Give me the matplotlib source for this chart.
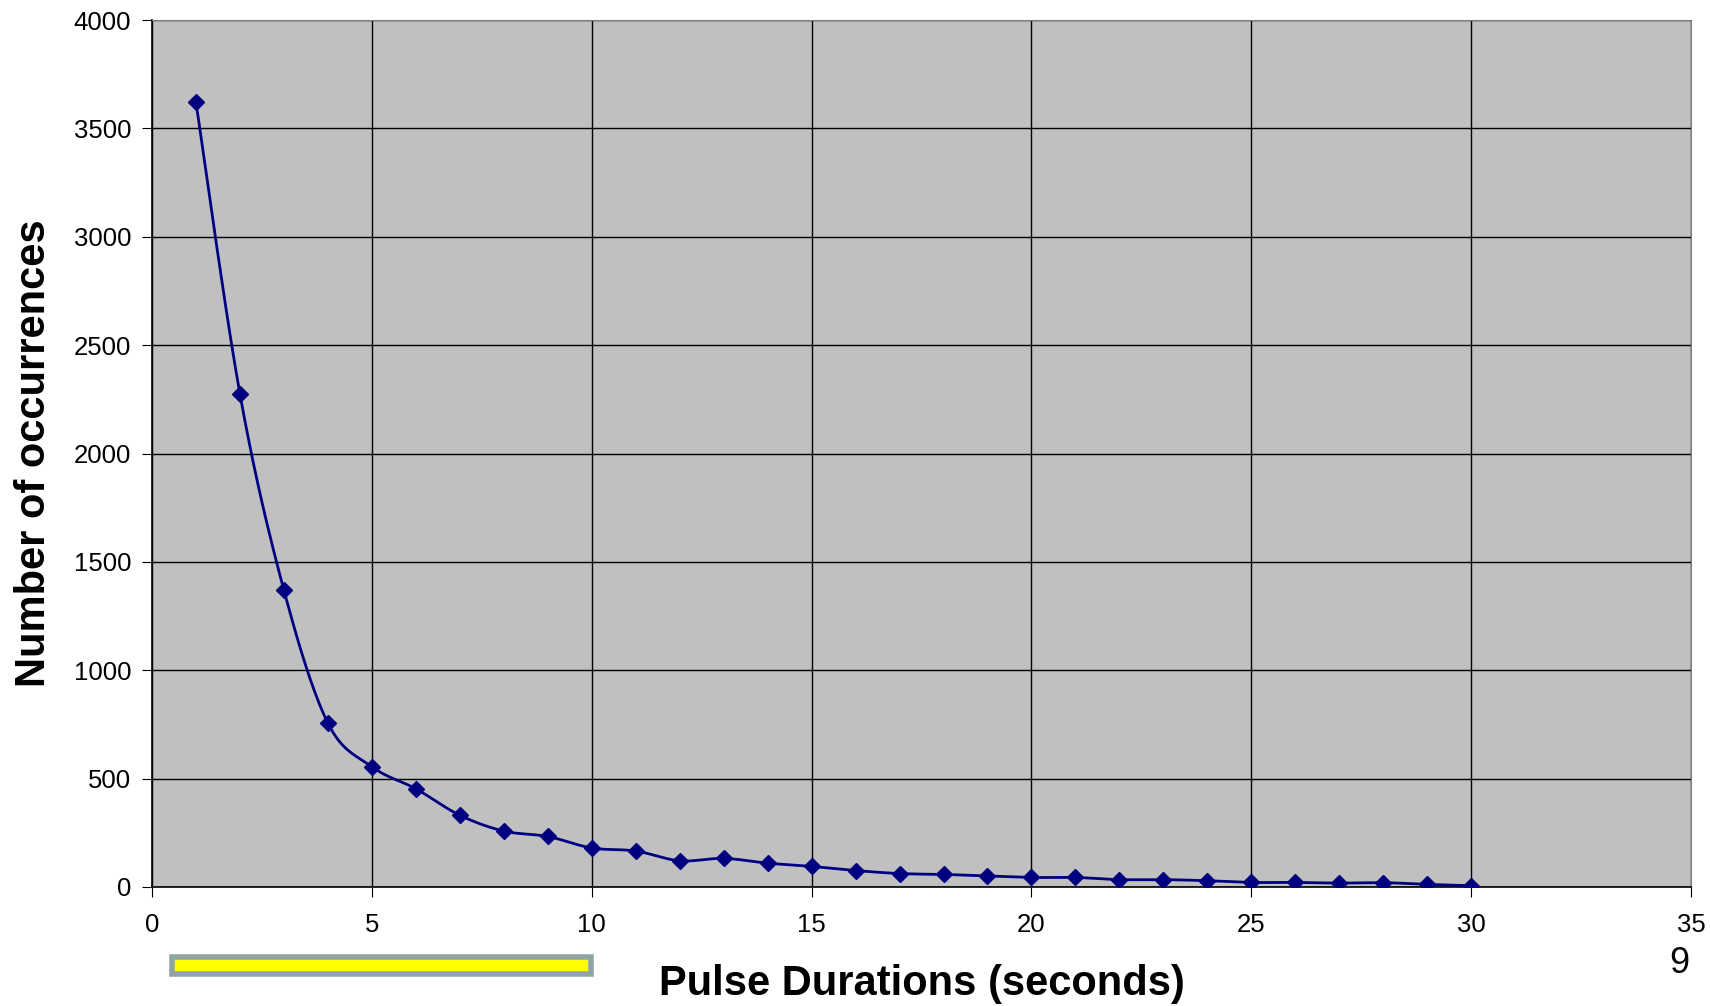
import numpy as np
import matplotlib
matplotlib.use("Agg")
import matplotlib.pyplot as plt
from matplotlib.patches import Rectangle

plt.rcParams['font.family'] = ['Liberation Sans', 'DejaVu Sans']

# Pulse duration data
durations = list(range(1, 31))
occurrences = [3620, 2274, 1369, 756, 555, 453, 331, 258, 233, 180,
               166, 121, 132, 110, 95, 76, 62, 58, 51, 44,
               44, 34, 34, 29, 21, 21, 18, 20, 12, 6]
x_ticks = [0, 5, 10, 15, 20, 25, 30, 35]
y_ticks = [0, 500, 1000, 1500, 2000, 2500, 3000, 3500, 4000]


def smooth(xs, ys, n=20):
    # Catmull-Rom curve through the points, like Excel's smoothed line
    xs = np.asarray(xs, float)
    ys = np.asarray(ys, float)
    px = np.concatenate([[xs[0]], xs, [xs[-1]]])
    py = np.concatenate([[ys[0]], ys, [ys[-1]]])
    outx, outy = [], []
    t = np.linspace(0, 1, n, endpoint=False)
    for i in range(1, len(px) - 2):
        p0x, p1x, p2x, p3x = px[i - 1:i + 3]
        p0y, p1y, p2y, p3y = py[i - 1:i + 3]
        c1x, c1y = p1x + (p2x - p0x) / 6, p1y + (p2y - p0y) / 6
        c2x, c2y = p2x - (p3x - p1x) / 6, p2y - (p3y - p1y) / 6
        b0, b1, b2, b3 = (1 - t) ** 3, 3 * t * (1 - t) ** 2, 3 * t ** 2 * (1 - t), t ** 3
        outx.extend(b0 * p1x + b1 * c1x + b2 * c2x + b3 * p2x)
        outy.extend(b0 * p1y + b1 * c1y + b2 * c2y + b3 * p2y)
    outx.append(xs[-1])
    outy.append(ys[-1])
    return outx, outy


fig = plt.figure(figsize=(17.1, 10.06), dpi=100)
ax = fig.add_axes([0.0889, 0.1183, 0.9, 0.8618])
ax.set_facecolor('#C0C0C0')

sx, sy = smooth(durations, occurrences)
ax.plot(sx, sy, color='#000080', lw=2, zorder=3)
ax.plot(durations, occurrences, 'D', color='#000080', ms=8, zorder=4)

ax.set_xlim(0, 35)
ax.set_ylim(0, 4000)
ax.set_xticks(x_ticks)
ax.set_yticks(y_ticks)
ax.grid(True, color='black', lw=1)
ax.set_axisbelow(True)
ax.tick_params(axis='both', labelsize=18.5, direction='out', length=7,
               color='black', pad=8)
ax.tick_params(axis='x', pad=12)
for side in ['top', 'right']:
    ax.spines[side].set_color('#808080')
for side in ['left', 'bottom']:
    ax.spines[side].set_color('black')
    ax.spines[side].set_linewidth(1.2)

ax.set_ylabel('Number of occurrences', fontsize=30, fontweight='bold', labelpad=14)
fig.text(0.539, 0.022, 'Pulse Durations (seconds)', fontsize=30,
         fontweight='bold', ha='center', va='center')

# page number and yellow highlight bar
fig.text(0.982, 0.042, '9', fontsize=26, ha='center', va='center')
fig.patches.append(Rectangle((172 / 1710, 1 - 974 / 1006), 419 / 1710, 17 / 1006,
                             transform=fig.transFigure, facecolor='#FFFF00',
                             edgecolor='#8FA5A5', lw=4))

fig.savefig('out.png', dpi=100)
